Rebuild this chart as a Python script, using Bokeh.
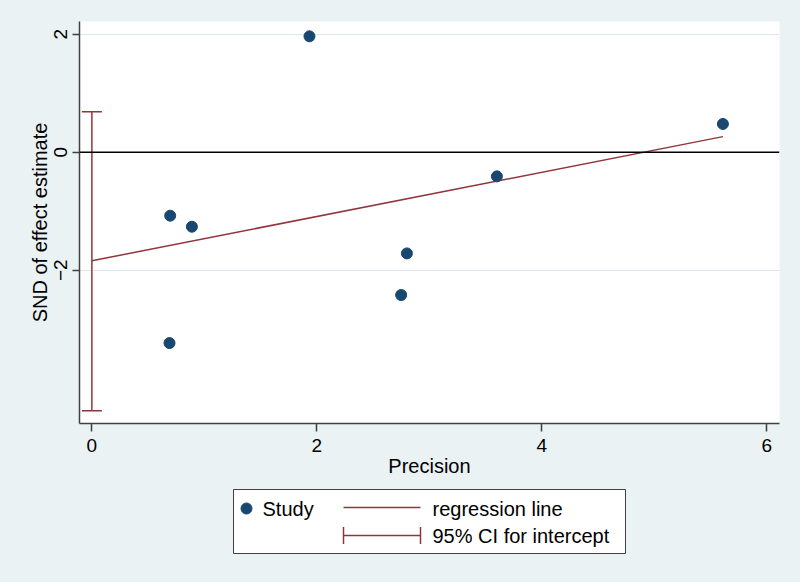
import numpy as np
from bokeh.plotting import figure
from bokeh.models import Range1d, FixedTicker, Span, Whisker, ColumnDataSource, TeeHead
from bokeh.layouts import column
from bokeh.embed import file_html
from bokeh.resources import INLINE
from bokeh.core.properties import value

# ---- data ----
precision = [1.934, 5.609, 3.600, 2.800, 2.749, 0.696, 0.889, 0.690]
snd = [1.963, 0.478, -0.410, -1.715, -2.420, -1.076, -1.263, -3.234]
reg_intercept = -1.84
reg_slope = 0.375
ci_lower = -4.38
ci_upper = 0.686
x_ticks = [0, 2, 4, 6]
y_ticks = [-2, 0, 2]
legend_labels = ["Study", "regression line", "95% CI for intercept"]
x_title = "Precision"
y_title = "SND of effect estimate"

BG = "#eaf2f3"
NAVY = "#1a476f"
MAROON = "#90353b"
AXIS = "#404040"
FONT = "Liberation Sans"

W, H, HM = 800, 582, 488
FL, FR, FT, FB = 79, 779, 21, 423

p = figure(width=W, height=HM,
           x_range=Range1d(-0.110, 6.112), y_range=Range1d(-4.597, 2.214),
           output_backend="svg", toolbar_location=None,
           min_border_left=FL, min_border_right=W - FR,
           min_border_top=FT, min_border_bottom=HM - FB)
p.background_fill_color = "white"
p.border_fill_color = BG
p.outline_line_color = None
p.xgrid.visible = False
p.ygrid.ticker = FixedTicker(ticks=y_ticks)
p.ygrid.grid_line_color = "#dde7ec"
p.ygrid.grid_line_width = 1

for ax, ticks in ((p.xaxis[0], x_ticks), (p.yaxis[0], y_ticks)):
    ax.ticker = FixedTicker(ticks=ticks)
    ax.axis_line_color = AXIS
    ax.axis_line_width = 1.5
    ax.major_tick_line_color = AXIS
    ax.major_tick_line_width = 1.5
    ax.major_tick_in = 0
    ax.minor_tick_in = 0
    ax.minor_tick_out = 0
    ax.major_label_text_font = FONT
    ax.major_label_text_font_size = "19px"
    ax.major_label_text_color = "black"
    ax.axis_label_text_font = FONT
    ax.axis_label_text_font_size = "20px"
    ax.axis_label_text_font_style = "normal"
    ax.axis_label_text_color = "black"

p.xaxis.major_tick_out = 8
p.xaxis.major_label_standoff = 7
p.xaxis.axis_label = x_title
p.xaxis.axis_label_standoff = 0
p.yaxis.major_tick_out = 7
p.yaxis.major_label_standoff = 5
p.yaxis.major_label_orientation = "vertical"
p.yaxis.axis_label = y_title
p.yaxis.axis_label_standoff = 1

p.add_layout(Span(location=0, dimension="width", line_color="black", line_width=1.5))

ci_src = ColumnDataSource(dict(base=[0], lower=[ci_lower], upper=[ci_upper]))
p.add_layout(Whisker(source=ci_src, base="base", lower="lower", upper="upper",
                     dimension="height", line_color=MAROON, line_width=1.5,
                     lower_head=TeeHead(size=20, line_color=MAROON, line_width=1.5),
                     upper_head=TeeHead(size=20, line_color=MAROON, line_width=1.5)))

xs = np.array([0.0, max(precision)])
p.line(xs, reg_intercept + reg_slope * xs, line_color=MAROON, line_width=1.5)
p.scatter(precision, snd, size=11, fill_color=NAVY, line_color=NAVY)

# ---- legend panel (coordinates = page pixels) ----
lg = figure(width=W, height=H - HM, x_range=Range1d(FL, FR), y_range=Range1d(H, HM),
            output_backend="svg", toolbar_location=None,
            min_border_left=FL, min_border_right=W - FR, min_border_top=0, min_border_bottom=0,
            x_axis_type=None, y_axis_type=None)
lg.background_fill_color = BG
lg.border_fill_color = BG
lg.outline_line_color = None
lg.grid.visible = False
lg.quad(left=[233], right=[625], top=[489], bottom=[553], fill_color="white",
        line_color=AXIS, line_width=1)
lg.scatter([246], [508], size=11, fill_color=NAVY, line_color=NAVY)
lg.segment([343, 343, 343, 420], [507, 535, 526.5, 526.5], [420, 420, 343, 420], [507, 535, 543.5, 543.5],
           line_color=MAROON, line_width=1.5)
lg.text(x=[262, 432, 432], y=[508, 508, 535], text=legend_labels,
        text_font=value(FONT), text_font_size="20px", text_baseline="middle",
        text_align="left", text_color="black")

layout = column(p, lg, spacing=0)
html = file_html(layout, INLINE)
html = html.replace("</head>", "<style>body{background:%s;margin:0;}</style></head>" % BG, 1)
open("out.html", "w").write(html)
